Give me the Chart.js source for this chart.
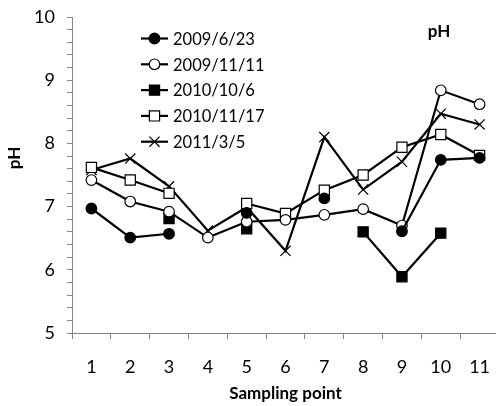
<!DOCTYPE html>
<html>
<head>
<meta charset="utf-8">
<script src="https://cdn.jsdelivr.net/npm/chart.js@4/dist/chart.umd.min.js"></script>
<style>
  html, body { margin: 0; padding: 0; background: #fff; overflow: hidden; }
  #wrap { width: 499px; height: 406px; }
</style>
</head>
<body>
<div id="wrap"><canvas id="phChart" width="499" height="406"></canvas></div>
<script>
// data
const samplingPoints = ['1', '2', '3', '4', '5', '6', '7', '8', '9', '10', '11'];
const seriesNames = ['2009/6/23', '2009/11/11', '2010/10/6', '2010/11/17', '2011/3/5'];

const ph20090623 = [6.97, 6.51, 6.57, null, 6.90, null, 7.13, null, 6.61, 7.74, 7.77];
const ph20091111 = [7.42, 7.08, 6.92, 6.51, 6.76, 6.79, 6.87, 6.96, 6.70, 8.84, 8.62];
const ph20101006 = [null, null, 6.81, null, 6.65, null, null, 6.60, 5.89, 6.58, null];
const ph20101117 = [7.62, 7.42, 7.21, null, 7.05, 6.89, 7.26, 7.50, 7.94, 8.14, 7.81];
const ph20110305 = [7.58, 7.76, 7.32, 6.62, 6.99, 6.30, 8.10, 7.27, 7.71, 8.47, 8.30];

const yTicksMin = 5;
const yTicksMax = 10;

const axisGrey = '#868686';
const fontFamily = 'Lato, "Open Sans", sans-serif';

function series(label, data, style, radius, filled) {
  return {
    label: label,
    data: data,
    borderColor: '#000',
    borderWidth: 2.2,
    pointStyle: style,
    pointRadius: radius,
    pointBackgroundColor: filled ? '#000' : '#fff',
    pointBorderColor: '#000',
    pointBorderWidth: 1.2,
    fill: false,
    tension: 0,
    spanGaps: false
  };
}

const datasets = [
  series(seriesNames[0], ph20090623, 'circle', 5.3, true),
  series(seriesNames[1], ph20091111, 'circle', 5.3, false),
  series(seriesNames[2], ph20101006, 'rect', 7.2, true),
  series(seriesNames[3], ph20101117, 'rect', 7.2, false),
  series(seriesNames[4], ph20110305, 'crossRot', 7.2, false)
];

// legend inside the plot + in-plot title + y axis title
const extrasPlugin = {
  id: 'extras',
  afterDraw(chart) {
    const ctx = chart.ctx;
    ctx.save();
    ctx.fillStyle = '#000';

    // legend
    ctx.font = '16.5px ' + fontFamily;
    ctx.textBaseline = 'middle';
    ctx.textAlign = 'left';
    chart.data.datasets.forEach((ds, i) => {
      const y = 38.5 + i * 25.8;
      ctx.strokeStyle = '#000';
      ctx.lineWidth = ds.borderWidth;
      ctx.beginPath();
      ctx.moveTo(141, y);
      ctx.lineTo(168, y);
      ctx.stroke();
      ctx.fillStyle = ds.pointBackgroundColor;
      ctx.strokeStyle = ds.pointBorderColor;
      ctx.lineWidth = ds.pointBorderWidth;
      Chart.helpers.drawPoint(ctx, {
        pointStyle: ds.pointStyle,
        radius: ds.pointRadius,
        rotation: 0,
        borderWidth: ds.pointBorderWidth
      }, 154.5, y);
      ctx.fillStyle = '#000';
      ctx.fillText(ds.label, 173, y + 1);
    });

    // title inside the plot
    ctx.font = 'bold 17px ' + fontFamily;
    ctx.textAlign = 'center';
    ctx.fillText('pH', 439, 32);

    // y axis title
    ctx.translate(15, 158);
    ctx.rotate(-Math.PI / 2);
    ctx.fillText('pH', 0, 0);
    ctx.restore();
  }
};

new Chart(document.getElementById('phChart').getContext('2d'), {
  type: 'line',
  data: {
    labels: samplingPoints,
    datasets: datasets
  },
  options: {
    responsive: false,
    animation: false,
    layout: { autoPadding: false, padding: { top: 17, right: 0, bottom: 0, left: 0 } },
    plugins: {
      legend: { display: false },
      tooltip: { enabled: false }
    },
    scales: {
      x: {
        offset: true,
        grid: {
          offset: true,
          drawOnChartArea: false,
          tickLength: 6,
          color: axisGrey
        },
        border: { color: axisGrey, width: 1 },
        ticks: {
          color: '#000',
          padding: 17,
          font: { family: fontFamily, size: 18 }
        },
        title: {
          display: true,
          text: 'Sampling point',
          color: '#000',
          padding: { top: 0, bottom: 2 },
          font: { family: fontFamily, size: 17, weight: 'bold' }
        },
        afterFit(scale) {
          scale.height = 73;
          scale.paddingLeft = 0;
          scale.paddingRight = 0;
        }
      },
      y: {
        min: yTicksMin,
        max: yTicksMax,
        grid: {
          drawOnChartArea: false,
          tickLength: 5,
          color: axisGrey
        },
        border: { color: axisGrey, width: 1 },
        ticks: {
          stepSize: 0.2,
          autoSkip: false,
          color: '#000',
          padding: 12,
          font: { family: fontFamily, size: 18 },
          callback(value) {
            return Math.abs(value - Math.round(value)) < 1e-6 ? String(Math.round(value)) : '';
          }
        },
        afterFit(scale) {
          scale.width = 72;
          scale.paddingTop = 0;
          scale.paddingBottom = 0;
        }
      }
    }
  },
  plugins: [extrasPlugin]
});
</script>
</body>
</html>
